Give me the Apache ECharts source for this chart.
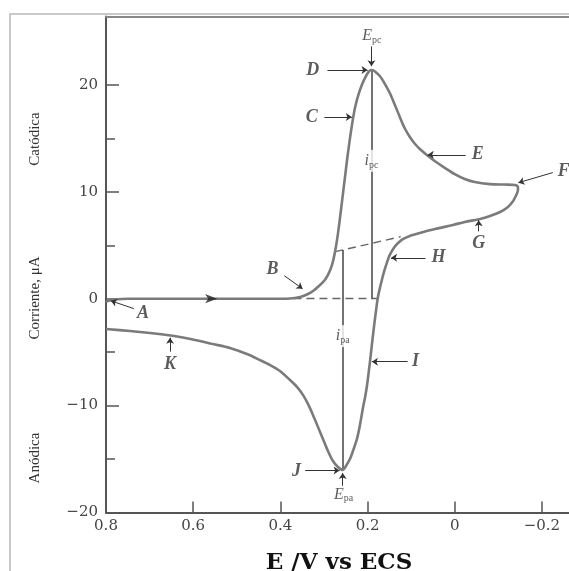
<!DOCTYPE html>
<html><head><meta charset="utf-8">
<script src="https://cdn.jsdelivr.net/npm/echarts@6/dist/echarts.min.js"></script>
<style>html,body{margin:0;padding:0;background:#fff}#c{width:569px;height:571px}</style>
</head><body><div id="c"></div>
<script>
// ---- Data (E in V vs ECS, I in µA) ----
const forwardE = [0.800, 0.790, 0.775, 0.750, 0.700, 0.600, 0.500, 0.450, 0.401, 0.378, 0.355, 0.339, 0.325, 0.309, 0.298, 0.290, 0.282, 0.276, 0.270, 0.264, 0.258, 0.252, 0.246, 0.240, 0.234, 0.228, 0.220, 0.212, 0.204, 0.198, 0.193, 0.189, 0.183, 0.172, 0.160, 0.149, 0.138, 0.126, 0.115, 0.103, 0.091, 0.080, 0.064, 0.046, 0.022, 0.000, -0.023, -0.046, -0.081, -0.115, -0.138, -0.145];
const forwardI = [-0.30, -0.15, -0.05, 0.00, 0.00, 0.00, 0.00, 0.00, 0.00, 0.02, 0.16, 0.39, 0.72, 1.28, 1.75, 2.30, 3.10, 4.10, 5.50, 7.30, 9.30, 11.3, 13.3, 15.1, 16.7, 18.0, 19.2, 20.1, 20.8, 21.2, 21.38, 21.4, 21.25, 20.83, 20.08, 19.24, 18.2, 17.0, 15.97, 15.13, 14.47, 14.0, 13.44, 12.88, 12.22, 11.66, 11.2, 10.91, 10.72, 10.68, 10.64, 10.45];
const reverseE = [-0.145, -0.140, -0.134, -0.122, -0.104, -0.081, -0.058, -0.023, 0.004, 0.045, 0.080, 0.103, 0.119, 0.130, 0.139, 0.149, 0.155, 0.162, 0.169, 0.1761, 0.1807, 0.1853, 0.1899, 0.1945, 0.2014, 0.2060, 0.2106, 0.2174, 0.2243, 0.2335, 0.2404, 0.2495, 0.2564, 0.2679, 0.2794, 0.2908, 0.3023, 0.3138, 0.3252, 0.3367, 0.3482, 0.3619, 0.378, 0.4009, 0.4239, 0.4468, 0.4766, 0.5156, 0.5546, 0.5959, 0.6303, 0.660, 0.699, 0.745, 0.800];
const reverseI = [10.17, 9.6, 9.14, 8.58, 8.11, 7.74, 7.46, 7.18, 6.9, 6.52, 6.15, 5.87, 5.58, 5.21, 4.8, 4.1, 3.45, 2.55, 1.45, 0.16, -1.15, -2.64, -4.24, -5.92, -8.17, -9.29, -10.22, -11.81, -13.12, -14.25, -15.0, -15.65, -16.03, -15.74, -15.18, -14.25, -13.12, -11.99, -10.87, -9.84, -9.0, -8.25, -7.6, -6.76, -6.2, -5.74, -5.18, -4.61, -4.24, -3.86, -3.58, -3.4, -3.21, -3.02, -2.83];

const xTickValues = [0.8, 0.6, 0.4, 0.2, 0, -0.2];
const yTickValues = [-20, -10, 0, 10, 20];
const yMinorTickValues = [-15, -5, 5, 15];

const peakCathodicE = 0.191, peakCathodicI = 21.4;
const peakAnodicE = 0.257, peakAnodicI = -16.0;
const baselineForwardE = [0.370, 0.177], baselineForwardI = [0, 0];
const baselineReverseE = [0.274, 0.124], baselineReverseI = [4.4, 5.8];
const ipaTopI = 4.55;

// point letters and their arrows (data units)
const letterNames = ['A', 'B', 'C', 'D', 'E', 'F', 'G', 'H', 'I', 'J', 'K'];
const letterE = [0.715, 0.418, 0.328, 0.326, -0.053, -0.250, -0.055, 0.037, 0.090, 0.363, 0.653];
const letterI = [-1.35, 2.75, 17.0, 21.4, 13.46, 11.9, 5.2, 3.83, -5.89, -16.15, -6.1];
const arrowFromE = [0.736, 0.391, 0.299, 0.292, -0.025, -0.225, -0.055, 0.067, 0.108, 0.343, 0.653];
const arrowFromI = [-0.93, 2.15, 17.0, 21.4, 13.46, 11.8, 6.3, 3.83, -5.89, -16.07, -4.95];
const arrowToE = [0.789, 0.349, 0.236, 0.200, 0.062, -0.146, -0.055, 0.146, 0.190, 0.264, 0.653];
const arrowToI = [-0.19, 0.93, 17.0, 21.4, 13.46, 10.85, 7.35, 3.83, -5.89, -16.07, -3.65];
const scanArrowE = [0.545], scanArrowI = [0];

// ---- Build ----
const curve = forwardE.map((e, i) => [e, forwardI[i]])
  .concat(reverseE.map((e, i) => [e, reverseI[i]]));

const fmt = v => {
  if (Math.abs(v) < 1e-9) return '0';
  const s = Number.isInteger(v) ? String(v) : v.toFixed(1);
  return s.replace('-', '\u2212');
};

const arrowData = letterNames.map((n, i) => ({coords: [[arrowFromE[i], arrowFromI[i]], [arrowToE[i], arrowToI[i]]]}));
arrowData.push({coords: [[peakCathodicE, 23.6], [peakCathodicE, 21.75]]});
arrowData.push({coords: [[peakAnodicE, -17.5], [peakAnodicE, -16.3]]});

const subRich = {
  e: {fontFamily: 'Liberation Serif', fontStyle: 'italic', fontSize: 16, color: '#333', lineHeight: 18},
  s: {fontFamily: 'Liberation Serif', fontSize: 10, color: '#333', lineHeight: 10, padding: [9, 0, 0, 0]}
};

const chart = echarts.init(document.getElementById('c'));
chart.setOption({
  animation: false,
  backgroundColor: '#fff',
  grid: {left: 106, top: 16.5, right: -3, bottom: 58.5, outerBoundsMode: 'none', containLabel: false},
  xAxis: [{
    type: 'value', inverse: true, min: -0.269, max: 0.8, position: 'bottom',
    axisLine: {show: true, onZero: false, lineStyle: {color: '#555', width: 2}},
    axisTick: {show: true, inside: true, length: 11, customValues: [0.6, 0.4, 0.2, 0, -0.2], lineStyle: {color: '#555', width: 1.5}},
    axisLabel: {customValues: xTickValues, formatter: fmt, margin: 6, color: '#444', fontFamily: 'DejaVu Serif', fontSize: 15},
    splitLine: {show: false},
    name: 'E /V vs ECS', nameLocation: 'middle', nameGap: 39,
    nameTextStyle: {fontFamily: 'DejaVu Serif', fontWeight: 'bold', fontSize: 23, color: '#111'}
  }, {
    type: 'value', inverse: true, min: -0.269, max: 0.8, position: 'top',
    axisLine: {show: true, onZero: false, lineStyle: {color: '#888', width: 2}},
    axisTick: {show: false}, axisLabel: {show: false}, splitLine: {show: false}
  }],
  yAxis: [{
    type: 'value', min: -20, max: 26.4, position: 'left',
    axisLine: {show: true, onZero: false, lineStyle: {color: '#555', width: 2}},
    axisTick: {show: true, inside: true, length: 13, customValues: yTickValues, lineStyle: {color: '#555', width: 1.5}},
    axisLabel: {customValues: yTickValues, formatter: fmt, margin: 8, color: '#444', fontFamily: 'DejaVu Serif', fontSize: 15},
    splitLine: {show: false}
  }, {
    type: 'value', min: -20, max: 26.4, position: 'left', offset: 0,
    axisLine: {show: false, onZero: false},
    axisTick: {show: true, inside: true, length: 9, customValues: yMinorTickValues, lineStyle: {color: '#555', width: 1.5}},
    axisLabel: {show: false}, splitLine: {show: false}
  }],
  graphic: [
    {type: 'rect', shape: {x: 10, y: 14, width: 700, height: 700}, style: {fill: 'none', stroke: '#b8b8b8', lineWidth: 1.5}, z: -1},
    {type: 'text', x: 35, y: 139, rotation: Math.PI / 2, style: {text: 'Catódica', font: '15px "Liberation Serif"', fill: '#333', align: 'center', verticalAlign: 'middle'}},
    {type: 'text', x: 35, y: 298, rotation: Math.PI / 2, style: {text: 'Corriente, μA', font: '15px "Liberation Serif"', fill: '#333', align: 'center', verticalAlign: 'middle'}},
    {type: 'text', x: 35, y: 458, rotation: Math.PI / 2, style: {text: 'Anódica', font: '15px "Liberation Serif"', fill: '#333', align: 'center', verticalAlign: 'middle'}}
  ],
  series: [
    {
      type: 'lines', coordinateSystem: 'cartesian2d', silent: true, z: 2,
      lineStyle: {color: '#666', width: 1.4, opacity: 1, type: [8, 5]},
      data: [
        {coords: baselineForwardE.map((e, i) => [e, baselineForwardI[i]])},
        {coords: baselineReverseE.map((e, i) => [e, baselineReverseI[i]])}
      ]
    },
    {
      type: 'lines', coordinateSystem: 'cartesian2d', silent: true, z: 2,
      lineStyle: {color: '#444', width: 1.5, opacity: 1},
      data: [
        {coords: [[peakCathodicE, peakCathodicI], [peakCathodicE, 0]]},
        {coords: [[peakAnodicE, ipaTopI], [peakAnodicE, peakAnodicI]]}
      ]
    },
    {
      type: 'line', data: curve, showSymbol: false, smooth: 0.3, silent: true, z: 3,
      lineStyle: {color: '#7b7b7b', width: 2.6}
    },
    {
      type: 'lines', coordinateSystem: 'cartesian2d', silent: true, z: 4,
      symbol: ['none', 'arrow'], symbolSize: 6,
      lineStyle: {color: '#333', width: 1, opacity: 1},
      data: arrowData
    },
    {
      type: 'scatter', silent: true, z: 5,
      symbol: 'arrow', symbolSize: [7, 12], symbolRotate: -90,
      itemStyle: {color: '#222'},
      data: scanArrowE.map((e, i) => [e, scanArrowI[i]])
    },
    {
      type: 'scatter', symbolSize: 0, silent: true, z: 6,
      label: {show: true, position: 'inside', formatter: '{b}', fontFamily: 'Liberation Serif', fontStyle: 'italic', fontWeight: 'bold', fontSize: 18, color: '#333'},
      data: letterNames.map((n, i) => ({name: n, value: [letterE[i], letterI[i]]}))
    },
    {
      type: 'scatter', symbolSize: 0, silent: true, z: 7,
      label: {show: true, position: 'inside', rich: subRich},
      data: [
        {value: [0.190, 24.6], label: {formatter: '{e|E}{s|pc}'}},
        {value: [0.255, -18.3], label: {formatter: '{e|E}{s|pa}'}},
        {value: [peakCathodicE, 12.9], label: {formatter: '{e|i}{s|pc}', backgroundColor: '#fff', padding: [2, 1, 2, 1]}},
        {value: [peakAnodicE, -3.5], label: {formatter: '{e|i}{s|pa}', backgroundColor: '#fff', padding: [2, 1, 2, 1]}}
      ]
    }
  ]
});
</script></body></html>
